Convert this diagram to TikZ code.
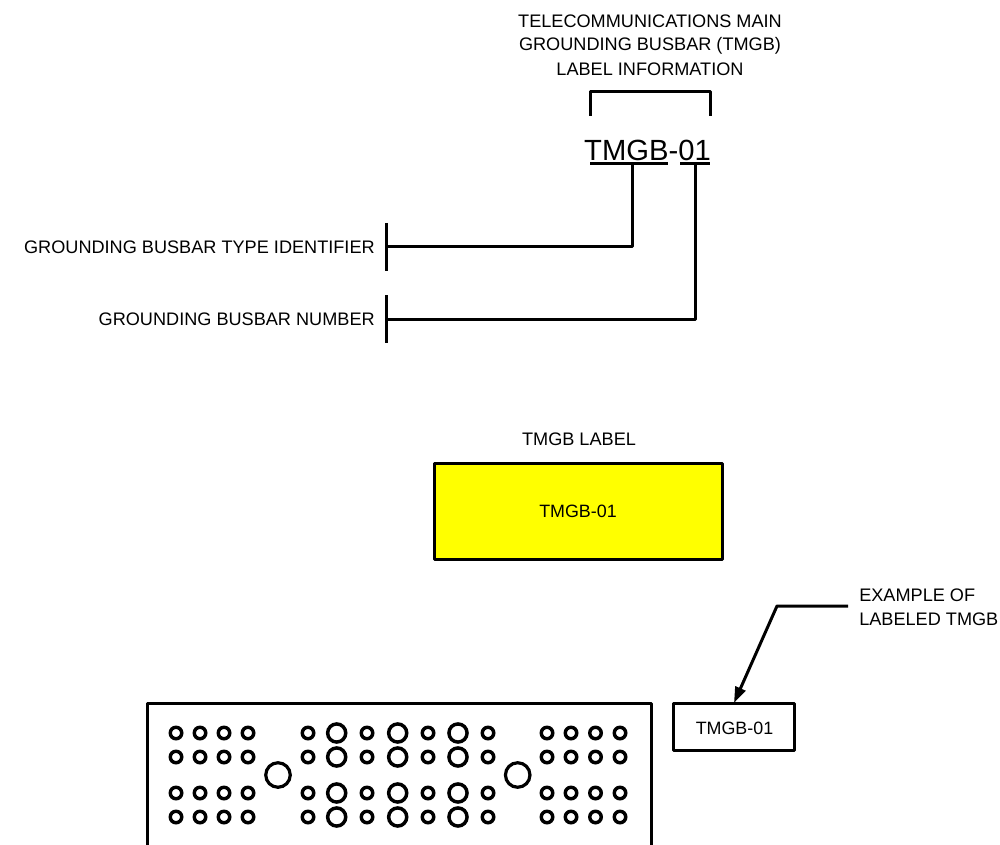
\documentclass[tikz,border=0pt]{standalone}
\usepackage{fontspec}
\setmainfont{Liberation Sans}
\usetikzlibrary{arrows.meta}
\definecolor{labelyellow}{RGB}{255,255,0}
\tikzset{
  x=0.75pt,y=-0.75pt,
  wire/.style={line width=2.25pt,line cap=butt,line join=round},
  leader/.style={line width=2.25pt,line join=round},
  txt/.style={inner sep=0pt,font=\fontsize{13.6pt}{18pt}\selectfont,text=black},
  boxtxt/.style={txt,font=\fontsize{13.4pt}{18pt}\selectfont},
  smallhole/.style={draw=black,line width=2.6pt,fill=white},
  midhole/.style={draw=black,line width=2.6pt,fill=white},
  largehole/.style={draw=black,line width=2.4pt,fill=white},
}
\begin{document}
\begin{tikzpicture}
\useasboundingbox (0,0) rectangle (1000,845);
% header
\node[txt,align=center] (head1) at (650,21.5) {TELECOMMUNICATIONS MAIN};
\node[txt,align=center] (head2) at (650,45.5) {GROUNDING BUSBAR (TMGB)};
\node[txt,align=center] (head3) at (650,69.5) {LABEL INFORMATION};
\coordinate (brA) at (590,116);
\coordinate (brB) at (590,91.5);
\coordinate (brC) at (710,91.5);
\coordinate (brD) at (710,116);
\draw[leader] (brA) -- (brB) -- (brC) -- (brD);
\node[inner sep=0pt,font=\fontsize{21.9pt}{26pt}\selectfont,text=black] (code) at (647.5,150.5) {TMGB-01};
\coordinate (u1a) at (590,163.5);
\coordinate (u1b) at (668,163.5);
\coordinate (u2a) at (680,163.5);
\coordinate (u2b) at (710,163.5);
\draw[leader] (u1a) -- (u1b);
\draw[leader] (u2a) -- (u2b);
% leaders
\coordinate (j1) at (632,163.5);
\coordinate (k1) at (632,246.5);
\coordinate (b1) at (386,246.5);
\coordinate (b1t) at (386,223);
\coordinate (b1b) at (386,271);
\draw[leader] (j1) -- (k1) -- (b1);
\draw[leader] (b1t) -- (b1b);
\coordinate (j2) at (695,163.5);
\coordinate (k2) at (695,319);
\coordinate (b2) at (386,319);
\coordinate (b2t) at (386,295);
\coordinate (b2b) at (386,343);
\draw[leader] (j2) -- (k2) -- (b2);
\draw[leader] (b2t) -- (b2b);
\node[txt,anchor=east] (lab1) at (375,247.5) {GROUNDING BUSBAR TYPE IDENTIFIER};
\node[txt,anchor=east] (lab2) at (375,319.5) {GROUNDING BUSBAR NUMBER};
% yellow label
\node[txt] (ttl) at (579,439.5) {TMGB LABEL};
\draw[wire,fill=labelyellow] (434,463) rectangle (722,559);
\node[boxtxt] (yl) at (578,511.5) {TMGB-01};
% example
\node[txt,anchor=west] (ex1) at (859,595.5) {EXAMPLE OF};
\node[txt,anchor=west] (ex2) at (859,619.5) {LABELED TMGB};
\draw[wire] (673.5,703) rectangle (794,750.5);
\node[boxtxt] (bl) at (734.5,728) {TMGB-01};
\coordinate (ar0) at (848,606);
\coordinate (ar1) at (777,606);
\coordinate (ar2) at (734,703);
\draw[wire,-{Triangle[length=12pt,width=8pt]}] (ar0) -- (ar1) -- (ar2);
% busbar
\draw[wire] (147.5,845) -- (147.5,703) -- (651,703) -- (651,845);
\foreach \y in {733,757,793,817}{
  \foreach \x in {176,200,224,248,308,367,428,488,547,571,595.5,620}{
    \draw[smallhole] (\x,\y) circle[radius=4.3pt];
  }
  \foreach \x in {336.7,397.7,458}{
    \draw[midhole] (\x,\y) circle[radius=6.8pt];
  }
}
\foreach \x in {278,517.7}{
  \draw[largehole] (\x,775) circle[radius=9.2pt];
}
\end{tikzpicture}
\end{document}
